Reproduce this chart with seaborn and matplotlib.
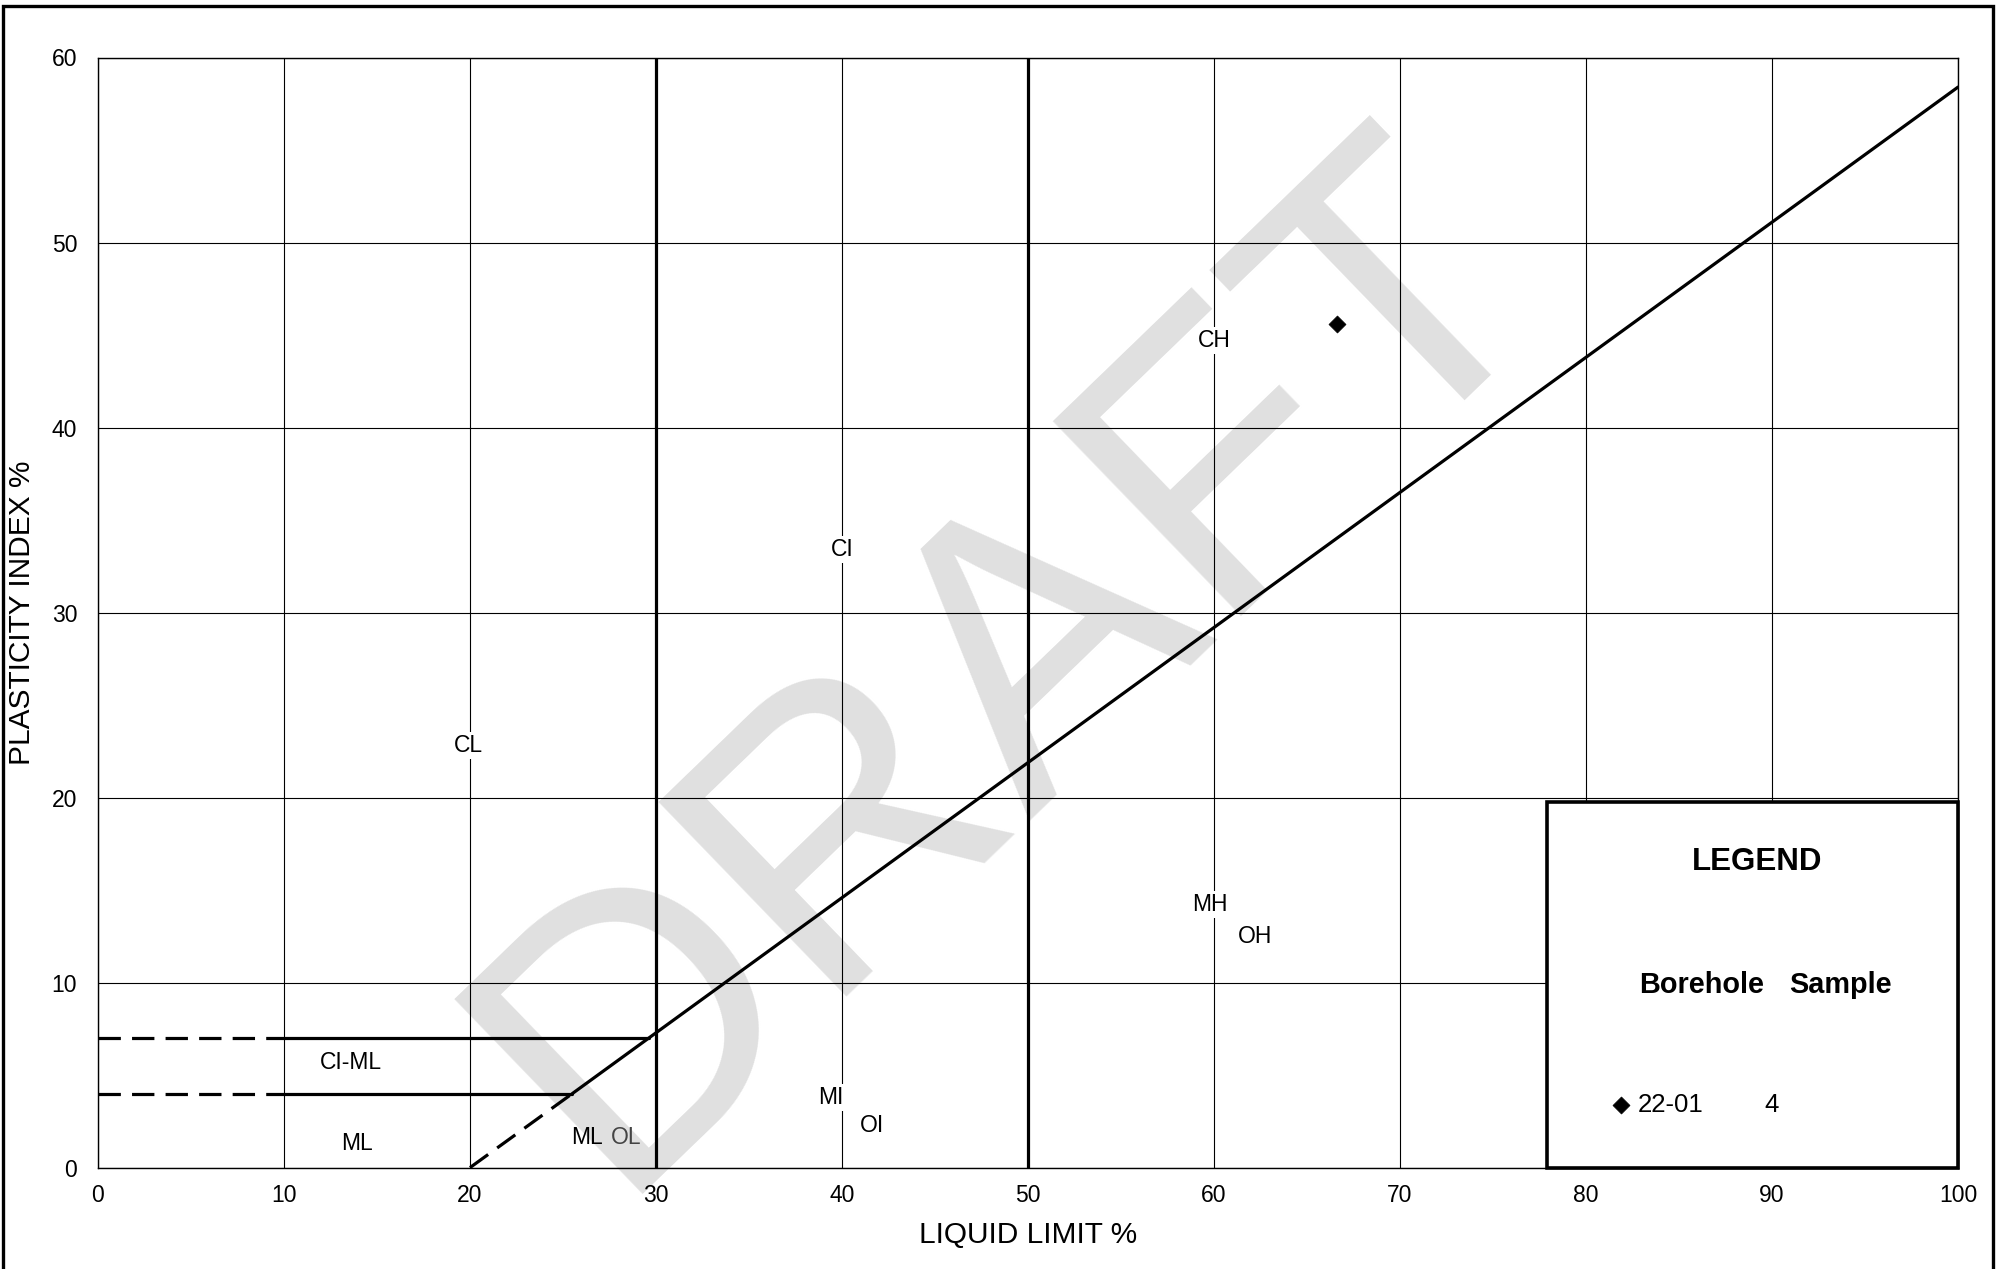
import matplotlib
matplotlib.use("Agg")
import matplotlib.pyplot as plt
import seaborn as sns
import pandas as pd
from matplotlib.patches import Rectangle

# Plasticity chart boundaries (liquid limit LL %, plasticity index PI %)
a_line_ll = [25.5, 100.0]
a_line_pi = [4.0, 58.4]
a_line_ext_ll = [20.0, 25.5]
a_line_ext_pi = [0.0, 4.0]
band_upper_pi = 7.0
band_lower_pi = 4.0
band_upper_end_ll = 29.6
band_lower_end_ll = 25.5
band_dash_end_ll = 10.0
ll_bounds = [30.0, 50.0]

# Soil group labels
zone_names = ["CL", "CI", "CH", "MH", "OH", "MI", "OI", "ML", "OL", "ML", "CI-ML"]
zone_ll = [19.9, 40.0, 60.0, 59.8, 62.2, 39.4, 41.6, 26.3, 28.4, 13.9, 13.6]
zone_pi = [22.8, 33.4, 44.7, 14.2, 12.5, 3.8, 2.3, 1.6, 1.6, 1.3, 5.7]
zone_colors = ["black"] * 8 + ["#444444"] + ["black"] * 2
zone_boxed = [True, True, True, True, True, True, True, False, False, False, False]

# Test results
boreholes = ["22-01"]
samples = ["4"]
sample_ll = [66.6]
sample_pi = [45.6]

x_ticks = list(range(0, 101, 10))
y_ticks = list(range(0, 61, 10))

sns.set_theme(style="white")
plt.rcParams["font.family"] = ["Liberation Sans", "DejaVu Sans"]

W, H = 2003, 1269
fig = plt.figure(figsize=(W / 100, H / 100), dpi=100)
fig.patch.set_facecolor("white")

# Outer frame of the sheet
fig.add_artist(Rectangle((3 / W, -0.02), (1993 - 3) / W, 1.02 - 6 / H,
                         transform=fig.transFigure, fill=False,
                         edgecolor="black", linewidth=2.4, zorder=10))

# Watermark behind the chart content
fig.text(0.5407, 0.4192, "DRAFT", fontsize=284, color="#e0e0e0",
         rotation=44, rotation_mode="anchor", ha="center", va="baseline",
         zorder=-1)

ax = fig.add_axes([98 / W, 1 - 1167.6 / H, (1958 - 98) / W, (1167.6 - 57.5) / H])
ax.set_facecolor("none")
ax.set_xlim(0, 100)
ax.set_ylim(0, 60)
ax.set_xticks(x_ticks)
ax.set_yticks(y_ticks)
ax.grid(True, color="black", linewidth=0.8)
ax.set_axisbelow(True)
for s in ax.spines.values():
    s.set_color("black")
    s.set_linewidth(1.0)
ax.tick_params(axis="both", length=0, labelsize=16.5, colors="black")
ax.tick_params(axis="x", pad=12)
ax.tick_params(axis="y", pad=15)

lw = 2.3
# A-line
sns.lineplot(x=a_line_ll, y=a_line_pi, color="black", linewidth=lw, ax=ax,
             zorder=3)
ax.plot(a_line_ext_ll, a_line_ext_pi, color="black", linewidth=lw,
        dashes=(7, 3.5), zorder=3)
# Liquid limit boundaries
for v in ll_bounds:
    ax.axvline(v, color="black", linewidth=lw, zorder=3)
# CL-ML band
for pi, end_ll in [(band_upper_pi, band_upper_end_ll), (band_lower_pi, band_lower_end_ll)]:
    ax.plot([0, band_dash_end_ll], [pi, pi], color="black", linewidth=lw,
            dashes=(7, 3.5), zorder=3)
    ax.plot([band_dash_end_ll, end_ll], [pi, pi], color="black", linewidth=lw,
            zorder=3)

# Group labels
for name, x, y, c, boxed in zip(zone_names, zone_ll, zone_pi, zone_colors, zone_boxed):
    kw = {}
    if boxed:
        kw["bbox"] = dict(facecolor="white", edgecolor="none", pad=1.5)
    ax.text(x, y, name, fontsize=16.5, color=c, ha="center", va="center",
            zorder=4, **kw)

# Sample points
df = pd.DataFrame({"LL": sample_ll, "PI": sample_pi, "Borehole": boreholes})
sns.scatterplot(data=df, x="LL", y="PI", marker="D", s=75, color="black",
                edgecolor="black", linewidth=0.5, ax=ax, zorder=6, legend=False)
ax.set_xlabel("LIQUID LIMIT %", fontsize=21.5, color="black", labelpad=10)
ax.set_ylabel("PLASTICITY INDEX %", fontsize=21.5, color="black", labelpad=11)

# Legend panel
ax.add_patch(Rectangle((77.9, 0), 22.1, 19.76, facecolor="white",
                       edgecolor="black", linewidth=2.6, zorder=7,
                       clip_on=False))
ax.text(89.2, 16.5, "LEGEND", fontsize=22.5, fontweight="bold", ha="center",
        va="center", color="black", zorder=8)
ax.text(86.2, 9.86, "Borehole", fontsize=20.8, fontweight="bold", ha="center",
        va="center", color="black", zorder=8)
ax.text(93.7, 9.86, "Sample", fontsize=20.8, fontweight="bold", ha="center",
        va="center", color="black", zorder=8)
for i, (b, smp) in enumerate(zip(boreholes, samples)):
    y = 3.4 - i * 2.5
    ax.scatter([81.9], [y], marker="D", s=75, color="black", linewidths=0.5,
               zorder=8, clip_on=False)
    ax.text(82.8, y, b, fontsize=18.5, ha="left", va="center", color="black",
            zorder=8)
    ax.text(90.0, y, smp, fontsize=18.5, ha="center", va="center",
            color="black", zorder=8)

fig.savefig("out.png", dpi=100)
